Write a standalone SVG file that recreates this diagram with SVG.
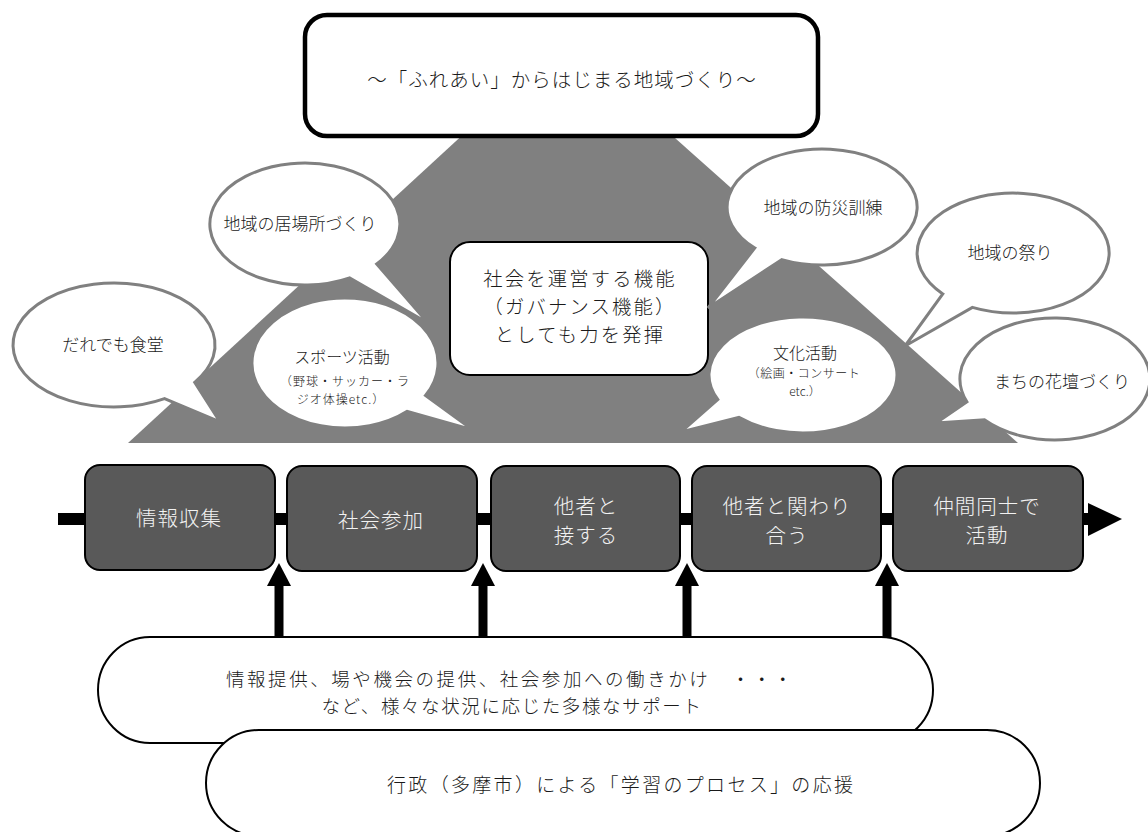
<svg xmlns="http://www.w3.org/2000/svg" width="1148" height="832" viewBox="0 0 1148 832">
<style>
.t{font-family:"Noto Sans CJK JP","Noto Sans",sans-serif;font-weight:300;text-anchor:middle;fill:#1a1a1a}
.bub{fill:#fff;stroke:#808080;stroke-width:3;stroke-linejoin:miter}
.pbox{fill:#595959;stroke:#000;stroke-width:2}
.pt{font-family:"Noto Sans CJK JP","Noto Sans",sans-serif;font-weight:300;text-anchor:middle;fill:#f2f2f2;font-size:20.5px;letter-spacing:1px}
.sup{fill:#fff;stroke:#000;stroke-width:2}
</style>
<rect width="1148" height="832" fill="#fff"/>

<g id="mountain">
<polygon points="468,130 666,130 1018,443 128,443" fill="#808080"/>
</g>

<g id="inner-box">
<rect x="450" y="242" width="258" height="133" rx="20" fill="#fff" stroke="#000" stroke-width="2"/>
<g style="font-size:19.3px;letter-spacing:2.2px">
<text class="t" x="580" y="286">社会を運営する機能</text>
<text class="t" x="580" y="314">（ガバナンス機能）</text>
<text class="t" x="580" y="342">としても力を発揮</text>
</g>
</g>

<g id="bubble-shokudo">
<path class="bub" d="M194.7,382.3 A101 62 0 1 0 164.5,398.7 L220,422 Z"/>
<text class="t" x="113" y="351" font-size="17">だれでも食堂</text>
</g>
<g id="bubble-ibasho">
<path class="bub" d="M376.7,264 A95 61 0 1 0 349.6,277.9 L428,323 Z"/>
<text class="t" x="300" y="230" font-size="17">地域の居場所づくり</text>
</g>
<g id="bubble-sports">
<path class="bub" d="M425.5,395.5 A93 65 0 1 0 407.2,411.3 L473,430 Z"/>
<text class="t" x="342" y="363" font-size="16">スポーツ活動</text>
<text class="t" x="345" y="386" font-size="12" letter-spacing="1">（野球・サッカー・ラ</text>
<text class="t" x="341" y="404" font-size="12" letter-spacing="1">ジオ体操etc.）</text>
</g>
<g id="bubble-bousai">
<path class="bub" d="M781.8,259.6 A95 58 0 1 0 754.8,248 L708,308 Z"/>
<text class="t" x="823" y="214" font-size="17">地域の防災訓練</text>
</g>
<g id="bubble-matsuri">
<path class="bub" d="M972.4,307.4 A96 60 0 1 0 942.8,293.9 L905,346 Z"/>
<text class="t" x="1010" y="259" font-size="17">地域の祭り</text>
</g>
<g id="bubble-bunka">
<path class="bub" d="M738.9,417.4 A94 58 0 1 0 717.8,399.5 L681,432 Z"/>
<text class="t" x="805" y="359" font-size="16">文化活動</text>
<text class="t" x="804" y="378" font-size="12" letter-spacing="0.5">（絵画・コンサート</text>
<text class="t" x="805" y="396" font-size="12">etc.）</text>
</g>
<g id="bubble-kadan">
<path class="bub" d="M984.4,419.8 A95 61 0 1 0 966.9,401.9 L936,423 Z"/>
<text class="t" x="1062" y="388" font-size="17">まちの花壇づくり</text>
</g>

<g id="title">
<rect x="305" y="15" width="513" height="121" rx="22" fill="#fff" stroke="#000" stroke-width="4.5"/>
<text class="t" x="562" y="87" font-size="19.5" letter-spacing="1">～「ふれあい」からはじまる地域づくり～</text>
</g>

<g id="connectors">
<line x1="58" y1="519" x2="1090" y2="519" stroke="#000" stroke-width="12"/>
<polygon points="1088,503 1122,519 1088,536" fill="#000"/>
<g stroke="#000" stroke-width="9">
<line x1="279" y1="640" x2="279" y2="583"/>
<line x1="483" y1="640" x2="483" y2="583"/>
<line x1="687" y1="640" x2="687" y2="583"/>
<line x1="887" y1="640" x2="887" y2="583"/>
</g>
<g fill="#000">
<polygon points="267,586 291,586 279,563"/>
<polygon points="471,586 495,586 483,563"/>
<polygon points="675,586 699,586 687,563"/>
<polygon points="875,586 899,586 887,563"/>
</g>
</g>

<g id="step1"><rect class="pbox" x="85" y="465" width="190" height="105" rx="15"/><text class="pt" x="179" y="526">情報収集</text></g>
<g id="step2"><rect class="pbox" x="287" y="466" width="190" height="105" rx="15"/><text class="pt" x="381" y="528">社会参加</text></g>
<g id="step3"><rect class="pbox" x="491" y="466" width="189" height="105" rx="15"/><text class="pt" x="586" y="514">他者と</text><text class="pt" x="586" y="543">接する</text></g>
<g id="step4"><rect class="pbox" x="692" y="466" width="189" height="105" rx="15"/><text class="pt" x="787" y="514">他者と関わり</text><text class="pt" x="787" y="543">合う</text></g>
<g id="step5"><rect class="pbox" x="893" y="466" width="190" height="105" rx="15"/><text class="pt" x="987" y="514">仲間同士で</text><text class="pt" x="987" y="543">活動</text></g>

<g id="support">
<rect class="sup" x="98" y="637" width="835" height="106" rx="52" ry="53"/>
<text class="t" x="226" y="686" font-size="18.5" style="text-anchor:start" textLength="566" lengthAdjust="spacing">情報提供、場や機会の提供、社会参加への働きかけ　・・・</text>
<text class="t" x="512" y="713" font-size="18.5" letter-spacing="1.6">など、様々な状況に応じた多様なサポート</text>
</g>

<g id="gov">
<rect class="sup" x="206" y="730" width="834" height="106" rx="53" ry="53"/>
<text class="t" x="620" y="792" font-size="19" textLength="466" lengthAdjust="spacing">行政（多摩市）による「学習のプロセス」の応援</text>
</g>
</svg>
